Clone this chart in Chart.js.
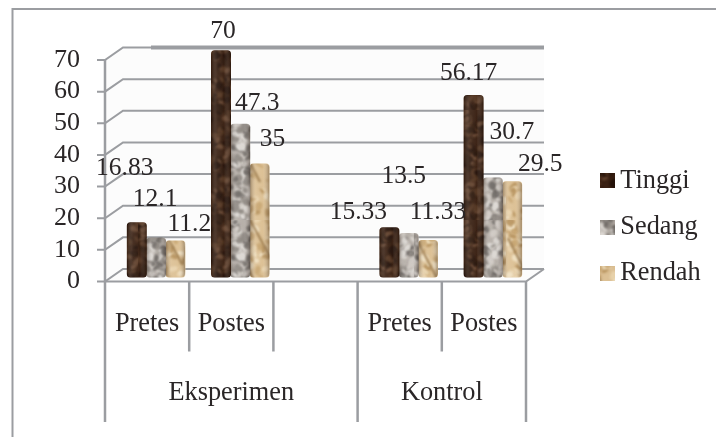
<!DOCTYPE html>
<html><head><meta charset="utf-8">
<style>html,body{margin:0;padding:0;background:#fff}canvas{display:block}</style>
<script src="https://cdn.jsdelivr.net/npm/chart.js@4"></script>
</head><body><canvas id="c" width="716" height="437"></canvas>
<script>
const categories = ['Pretes','Postes','','Pretes','Postes'];
const groups = ['Eksperimen','Kontrol'];
const yTicks = [0,10,20,30,40,50,60,70];
const tinggi = [16.83,70,null,15.33,56.17];
const sedang = [12.1,47.3,null,13.5,30.7];
const rendah = [11.2,35,null,11.33,29.5];
const labelOffsetsTinggi = [[-12,-54],[2,-19],null,[-31,-15],[-5,-22]];
const labelOffsetsSedang = [[-1,-39],[17,-21],null,[-5,-57],[19,-45]];
const labelOffsetsRendah = [[14,-17],[13,-24.5],null,[10,-28],[28,-17.5]];

const FONT = '"Liberation Serif","Times New Roman",serif';
const INK = '#2a2627', LINE = '#9b9da1';
const FRONT_DX = -9, BACK_DX = 9, BACK_DY = -12.5;

function hash(i){ const s = Math.sin(i*12.9898)*43758.5453; return s-Math.floor(s); }
function texture(base, spots, streak, n){
  const c = document.createElement('canvas'); c.width = 46; c.height = 110;
  const g = c.getContext('2d');
  g.fillStyle = base; g.fillRect(0,0,46,110);
  g.filter = 'blur(1.2px)';
  for(let i=0;i<n;i++){
    g.fillStyle = spots[i%spots.length];
    g.beginPath();
    g.ellipse(hash(i+1)*46,hash(i+50)*110,1.5+hash(i+90)*3.5,1+hash(i+130)*3,hash(i+170)*3,0,7);
    g.fill();
  }
  if(streak){
    g.strokeStyle = streak; g.lineWidth = 2;
    g.beginPath(); g.moveTo(2,18); g.lineTo(30,72); g.stroke();
    g.beginPath(); g.moveTo(20,0); g.lineTo(44,44); g.stroke();
  }
  g.filter = 'none';
  return c;
}
function swatch(tex){
  const c = document.createElement('canvas'); c.width = 15; c.height = 15;
  c.getContext('2d').drawImage(tex,10,20,15,15,0,0,15,15);
  return c;
}
const ctx = document.getElementById('c').getContext('2d');
const texT = texture('#3a2113',['#24120a','#533521','#2e1a0e','#654530'],null,170);
const texS = texture('#b5aea7',['#6f6a66','#dcd8d3','#8f8983','#cfc9c3'],null,260);
const texR = texture('#dcc094',['#efdfc0','#c8a672','#e8d2ac','#b8945f'],'#9a7848',90);

const seriesLabels = [labelOffsetsTinggi,labelOffsetsSedang,labelOffsetsRendah];

const scene = {
  id:'scene',
  beforeDatasetsDraw(ch){
    const c = ch.ctx, y = ch.scales.y, a = ch.chartArea;
    const fl = a.left+FRONT_DX, fr = a.right+FRONT_DX, bl = a.left+BACK_DX, br = a.right+BACK_DX;
    const y0 = y.getPixelForValue(0), yTop = y.getPixelForValue(70);
    c.save();
    c.strokeStyle = LINE; c.lineCap = 'butt';
    c.lineWidth = 2;
    c.beginPath(); c.moveTo(12.5,437); c.lineTo(12.5,9); c.lineTo(716,9); c.stroke();
    c.fillStyle = '#fcfcfc';
    c.beginPath(); c.moveTo(fl,y0); c.lineTo(fl,yTop); c.lineTo(bl,yTop+BACK_DY); c.lineTo(br,yTop+BACK_DY); c.lineTo(br,y0+BACK_DY); c.lineTo(fr,y0); c.closePath(); c.fill();
    y.ticks.forEach(t=>{
      const p = y.getPixelForValue(t.value);
      c.lineWidth = 2;
      c.beginPath(); c.moveTo(fl-8,p); c.lineTo(fl,p); c.lineTo(bl,p+BACK_DY);
      c.lineTo(br,p+BACK_DY); c.stroke();
    });
    c.lineWidth = 4;
    c.beginPath(); c.moveTo(bl+28,yTop+BACK_DY); c.lineTo(br,yTop+BACK_DY); c.stroke();
    c.lineWidth = 2;
    c.beginPath(); c.moveTo(fl,y0); c.lineTo(fr,y0); c.lineTo(br,y0+BACK_DY); c.stroke();
    c.lineWidth = 2.5;
    c.beginPath(); c.moveTo(fl,yTop); c.lineTo(fl,422); c.stroke();
    const band = (a.right-a.left)/categories.length;
    for(let i=1;i<=categories.length;i++){
      const px = fl+band*i;
      const long = i===3||i===5;
      c.beginPath(); c.moveTo(px,y0); c.lineTo(px,long?422:351.5); c.stroke();
    }
    c.restore();
  },
  afterDatasetsDraw(ch){
    const c = ch.ctx;
    c.save();
    ch.data.datasets.forEach((ds,di)=>{
      ch.getDatasetMeta(di).data.forEach((bar,i)=>{
        if(ds.data[i]==null) return;
        const w = bar.width, l = bar.x-w/2;
        const g = c.createLinearGradient(l,0,l+w,0);
        g.addColorStop(0,'rgba(30,15,5,.35)');
        g.addColorStop(.3,'rgba(255,255,255,.08)');
        g.addColorStop(.65,'rgba(255,255,255,.02)');
        g.addColorStop(1,'rgba(30,15,5,.32)');
        c.fillStyle = g;
        c.beginPath(); c.roundRect(l,bar.y,w,bar.base-bar.y,3.5); c.fill();
      });
    });
    c.fillStyle = INK; c.font = '25.5px '+FONT; c.textAlign = 'center'; c.textBaseline = 'middle';
    ch.data.datasets.forEach((ds,di)=>{
      ch.getDatasetMeta(di).data.forEach((bar,i)=>{
        const v = ds.data[i]; if(v==null) return;
        const o = seriesLabels[di][i];
        c.fillText(String(v),bar.x+o[0],bar.y+o[1]);
      });
    });
    c.font = '26.3px '+FONT;
    const x = ch.scales.x;
    c.fillText(groups[0],(x.getPixelForTick(0)+x.getPixelForTick(2))/2+FRONT_DX,393);
    c.fillText(groups[1],(x.getPixelForTick(3)+x.getPixelForTick(4))/2+FRONT_DX,393);
    c.restore();
  }
};

const LEGEND_RIGHT_PAD = 11.5;
new Chart(ctx,{
  type:'bar',
  plugins:[scene],
  data:{labels:categories,datasets:[
    {label:'Tinggi',data:tinggi,yAxisID:'yb',backgroundColor:ctx.createPattern(texT,'repeat'),pointStyle:swatch(texT)},
    {label:'Sedang',data:sedang,yAxisID:'yb',backgroundColor:ctx.createPattern(texS,'repeat'),pointStyle:swatch(texS)},
    {label:'Rendah',data:rendah,yAxisID:'yb',backgroundColor:ctx.createPattern(texR,'repeat'),pointStyle:swatch(texR)}
  ]},
  options:{
    responsive:false,animation:false,
    layout:{padding:{top:47,bottom:30,left:0,right:LEGEND_RIGHT_PAD}},
    datasets:{bar:{barThickness:19.3,borderRadius:3.5,borderSkipped:false,borderWidth:0}},
    plugins:{
      tooltip:{enabled:false},
      legend:{position:'right',align:'center',labels:{
        usePointStyle:true,pointStyleWidth:.1,boxHeight:15,padding:20,color:INK,
        font:{family:FONT,size:26.3}
      }}
    },
    scales:{
      x:{
        grid:{display:false},border:{display:false},
        ticks:{color:INK,font:{family:FONT,size:26.3},labelOffset:FRONT_DX,padding:19,autoSkip:false,maxRotation:0,minRotation:0},
        afterFit(s){s.height=125.5;}
      },
      y:{
        min:0,max:73.28,position:'left',
        grid:{display:false,drawTicks:false},border:{display:false},
        ticks:{color:INK,font:{family:FONT,size:26},padding:34,autoSkip:false},
        afterBuildTicks(s){s.ticks=yTicks.map(v=>({value:v}));},
        afterFit(s){s.width=114;}
      },
      yb:{min:-1.376,max:70.34,display:false},
      spacer:{
        position:'right',display:true,min:0,max:1,
        grid:{display:false,drawTicks:false},border:{display:false},ticks:{display:false},
        afterFit(s){s.width=716-535-LEGEND_RIGHT_PAD-(s.chart.legend?s.chart.legend.width:0);}
      }
    }
  }
});
</script></body></html>
